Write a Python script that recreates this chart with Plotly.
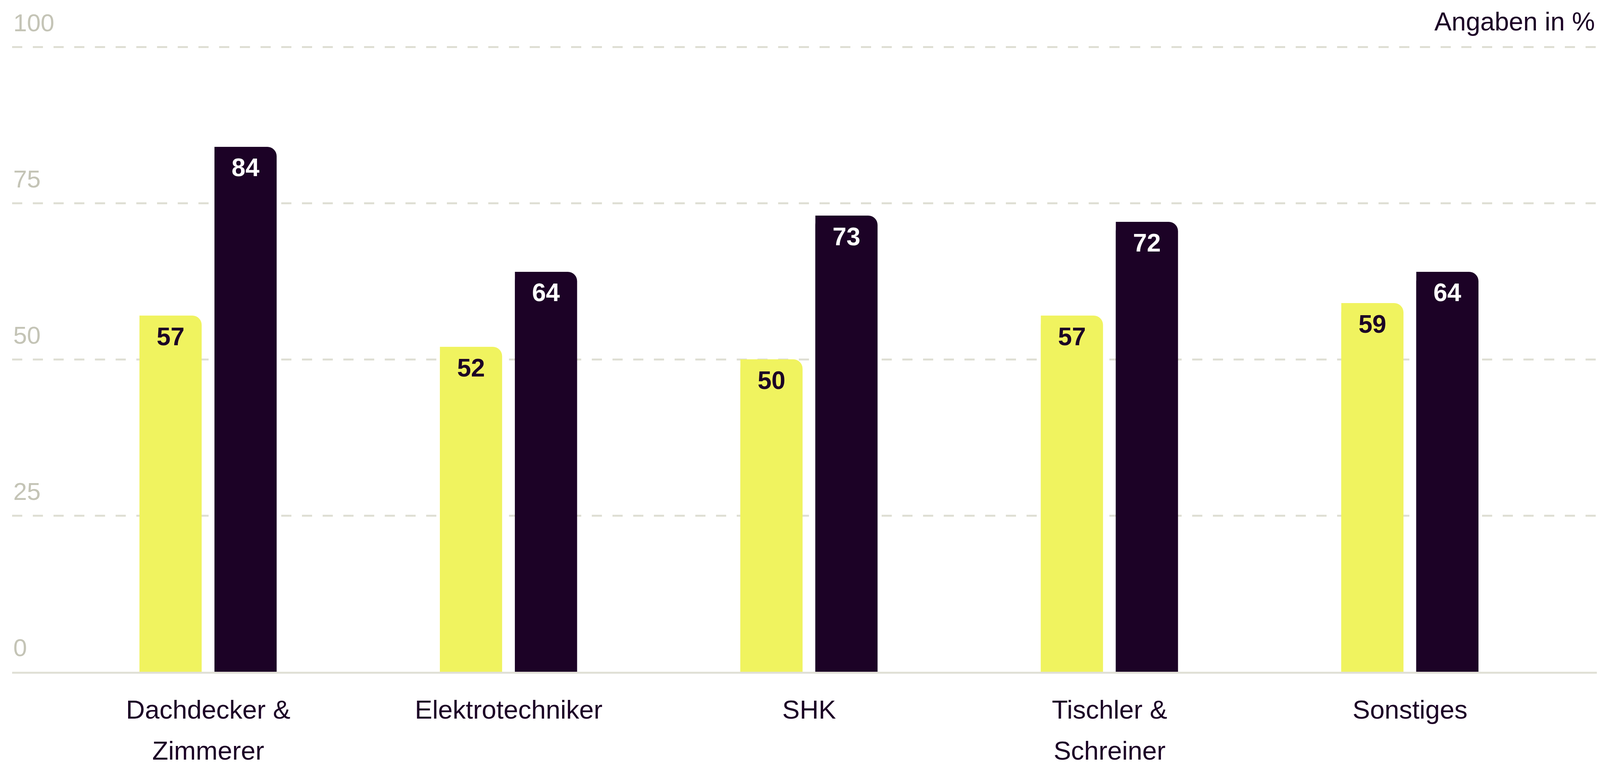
import plotly.graph_objects as go

# ---- data ----
categories = ["Dachdecker & Zimmerer", "Elektrotechniker", "SHK", "Tischler & Schreiner", "Sonstiges"]
label_line1 = ["Dachdecker &", "Elektrotechniker", "SHK", "Tischler &", "Sonstiges"]
label_line2 = ["Zimmerer", "", "", "Schreiner", ""]
series_a = [57, 52, 50, 57, 59]   # yellow
series_b = [84, 64, 73, 72, 64]   # dark
y_ticks = [0, 25, 50, 75, 100]

# ---- style ----
W, H = 4113, 1969
YELLOW = "#F0F35F"
DARK = "#1C0226"
GRID = "#DFDFD4"
BASE = "#E0E0D6"
TICKGREY = "#C4C4B6"
FONT = "Liberation Sans"

M_L, M_R, M_T, M_B = 23, 26, 0, 257
plot_h = H - M_T - M_B
X_RANGE = [-0.6527, 4.631]
Y_RANGE = [0, 107]

BAR_W = 0.207
OFF_A = -0.2288
OFF_B = 0.0208
RADIUS = 24
STANDOFF1 = 35
STANDOFF2 = 157
LABEL_SIZE = 67

fig = go.Figure()

# square-cornered half bars underneath (keeps the top-left corner square)
for vals, off, col in [(series_a, OFF_A, YELLOW), (series_b, OFF_B, DARK)]:
    fig.add_trace(go.Bar(
        x=categories, y=vals, width=BAR_W / 2, offset=off,
        marker=dict(color=col, line=dict(width=0)),
        hoverinfo="skip", showlegend=False, xaxis="x", yaxis="y",
    ))

# main bars with rounded top corners and value labels
for name, vals, off, col, tcol in [("A", series_a, OFF_A, YELLOW, DARK),
                                   ("B", series_b, OFF_B, DARK, "#FFFFFF")]:
    fig.add_trace(go.Bar(
        x=categories, y=vals, width=BAR_W, offset=off, name=name,
        marker=dict(color=col, line=dict(width=0), cornerradius=RADIUS),
        text=vals, textposition="inside", insidetextanchor="end",
        constraintext="none", textangle=0,
        insidetextfont=dict(family=FONT, size=64, color=tcol, weight="bold"),
        showlegend=False, xaxis="x2", yaxis="y",
    ))

fig.update_layout(
    width=W, height=H,
    barmode="overlay",
    paper_bgcolor="white", plot_bgcolor="white",
    margin=dict(l=M_L, r=M_R, t=M_T, b=M_B, pad=0),
    showlegend=False,
    font=dict(family=FONT, color=DARK),
    xaxis=dict(
        type="category", range=X_RANGE,
        tickvals=categories, ticktext=label_line1,
        showgrid=False, zeroline=False,
        showline=True, linecolor=BASE, linewidth=5,
        ticks="", ticklabelstandoff=STANDOFF1,
        tickfont=dict(family=FONT, size=LABEL_SIZE, color=DARK),
    ),
    xaxis2=dict(
        type="category", range=X_RANGE, overlaying="x", side="bottom", anchor="y",
        tickvals=categories, ticktext=label_line2,
        showgrid=False, zeroline=False, showline=False,
        ticks="", ticklabelstandoff=STANDOFF2,
        tickfont=dict(family=FONT, size=LABEL_SIZE, color=DARK),
    ),
    yaxis=dict(
        range=Y_RANGE,
        tickvals=y_ticks,
        ticktext=[str(v) for v in y_ticks],
        showgrid=True, gridcolor=GRID, gridwidth=5, griddash="26px,27px",
        zeroline=False, showline=False, ticks="",
        ticklabelposition="inside top", ticklabelshift=-18,
        tickfont=dict(family=FONT, size=63, color=TICKGREY),
    ),
    annotations=[dict(
        text="Angaben in %", xref="paper", yref="paper",
        x=1, y=1, xanchor="right", yanchor="top",
        xshift=-10, yshift=-8,
        showarrow=False, font=dict(family=FONT, size=66, color=DARK),
    )],
)

fig.write_html("out.html")
